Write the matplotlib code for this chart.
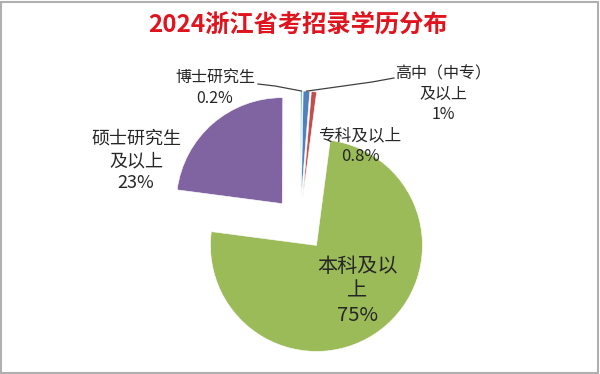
import numpy as np
import matplotlib.pyplot as plt
from matplotlib.patches import Rectangle

plt.rcParams['font.family'] = ['Noto Sans CJK SC', 'DejaVu Sans']

# 数据（顺时针，从12点方向附近开始）
categories = ['高中（中专）\n及以上', '专科及以上', '本科及以上', '硕士研究生\n及以上', '博士研究生']
values = [1, 0.8, 75, 23, 0.2]
pct_labels = ['1%', '0.8%', '75%', '23%', '0.2%']
colors = ['#4F81BD', '#C0504D', '#9BBB59', '#8064A2', '#4BACC6']

W, H = 600, 374
fig = plt.figure(figsize=(6, 3.74), dpi=100)
ax = fig.add_axes([0, 0, 1, 1])

# 坐标单位 = 像素（y 向上）
wedges, _ = ax.pie(values, colors=colors, startangle=89, counterclock=False,
                   center=(300, H - 224), radius=106, explode=[27] * 5,
                   wedgeprops=dict(edgecolor='white', linewidth=0.4))
ax.set_xlim(0, W)
ax.set_ylim(0, H)
ax.axis('off')

txt_color = '#262626'

def y(v):
    return H - v

# 标题
ax.text(298, y(25), '2024浙江省考招录学历分布', ha='center', va='center',
        fontsize=17.5, fontweight='bold', color='#E0141E')

# 数据标签
ax.text(443, y(94), categories[0] + '\n' + pct_labels[0], ha='center', va='center',
        fontsize=11.5, color=txt_color, linespacing=1.25)
ax.text(360, y(146), categories[1] + '\n' + pct_labels[1], ha='center', va='center',
        fontsize=12, color=txt_color, linespacing=1.25)
ax.text(357, y(291), '本科及以\n上\n' + pct_labels[2], ha='center', va='center',
        fontsize=14.5, color=txt_color, linespacing=1.2)
ax.text(136, y(161), categories[3] + '\n' + pct_labels[3], ha='center', va='center',
        fontsize=13, color=txt_color, linespacing=1.3)
ax.text(215, y(88), categories[4] + '\n' + pct_labels[4], ha='center', va='center',
        fontsize=11.5, color=txt_color, linespacing=1.25)

# 引导线
def outer_point(w):
    t = np.deg2rad((w.theta1 + w.theta2) / 2)
    return w.center[0] + w.r * np.cos(t), w.center[1] + w.r * np.sin(t)

px, py = outer_point(wedges[0])
ax.plot([394, 372, px], [y(78), y(82), py], color='#404040', lw=0.9)
px, py = outer_point(wedges[4])
ax.plot([258, 275, px], [y(84), y(86), py], color='#404040', lw=0.9)

# 外框
fig.patches.append(Rectangle((0.002, 0.003), 0.995, 0.992, transform=fig.transFigure,
                             fill=False, edgecolor='#B0B0B0', linewidth=1.5))

fig.savefig('out.png', dpi=100)
